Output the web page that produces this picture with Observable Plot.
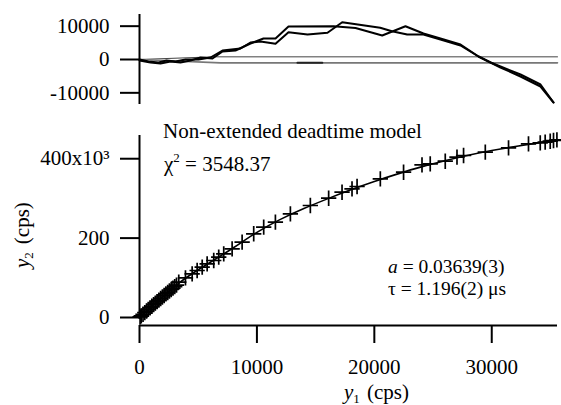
<!DOCTYPE html>
<html><head><meta charset="utf-8">
<script src="https://cdn.jsdelivr.net/npm/d3@7"></script>
<script src="https://cdn.jsdelivr.net/npm/@observablehq/plot@0.6"></script>
<style>
body{margin:0;background:#fff;}
#wrap{position:relative;width:561px;height:405px;overflow:hidden;font-family:"Liberation Serif",serif;background:#fff;}
#toppanel{position:absolute;left:0;top:0;}
#botpanel{position:absolute;left:0;top:120px;}
#ann{position:absolute;left:0;top:0;pointer-events:none;}
svg text{font-family:"Liberation Serif",serif;}
</style></head><body>
<div id="wrap"><div id="toppanel"></div><div id="botpanel"></div><svg id="ann" width="561" height="405"></svg></div>
<script>
// ---- data ----
const resAx = [0,937,1789,2640,3492,4344,5195,6217,7069,8176,9454,10561,11583,12690,16523,18397,20671,22650,24183,25631,27340,28873,29895,30746,32450,34153,35260];
const resAy = [-300,-900,-1200,-600,-900,-300,600,300,2400,2700,4800,6300,6300,9900,9990,9450,7200,9990,7800,6300,4500,900,-900,-2100,-4500,-7500,-12900];
const resBx = [0,767,1618,2300,3066,3918,5025,6047,7069,8602,9454,10306,11583,12690,14309,16012,17264,20500,21497,22800,24183,25631,27340,28873,29895,30746,32450,34153,35260];
const resBy = [0,-600,-900,-300,-600,0,0,600,2700,3300,5100,5400,4710,8190,7500,8010,11190,9510,8490,7500,7500,6000,4200,900,-900,-2400,-5100,-8100,-12900];
const bandUpX = [0,6300,35600], bandUpY = [0,800,800];
const bandLoX = [0,6900,35600], bandLoY = [0,-1000,-1000];
const dashX = [13450,15570], dashY = [-950,-950];

const ptX = [50,150,300,450,600,750,900,1050,1200,1350,1500,1650,1800,1950,2100,2250,2400,2550,2700,2850,3000,3150,
  3344,3915,4485,4910,5340,5761,6323,6748,7174,7889,8740,9727,10578,11574,12850,14550,16110,17250,18100,18530,20510,22490,24060,24760,26040,27040,27600,29450,31430,33130,34130,34550,34980,35260,35550];
const ptY = [1400,4100,8200,12300,16300,20300,24300,28300,32300,36200,40100,44000,47900,51700,55500,59300,63000,66800,70500,74100,77800,81400,
  88900,99900,110100,118400,126700,135300,143600,151900,160500,173100,189800,210900,227500,240100,261200,282100,300500,315600,324200,330000,349400,366000,384700,387200,393700,403800,408100,416400,427500,437600,440000,441600,444100,445900,447600];
const fitX = [0,2000,4000,6000,8000,10000,12000,14000,16000,18000,20000,22000,24000,26000,28000,30000,32000,34000,35600];
const fitY = [0,54000,103000,138500,175000,216000,248000,275000,299000,322000,343000,362000,380000,395000,409000,421000,431000,440000,448000];

const topTicks = [-10000,0,10000];
const botYTicks = [0,200000,400000];
const botYLabels = ["0","200","400x10\u00b3"];
const xTicks = [0,10000,20000,30000];

const tbl = (xs, ys) => xs.map((x,i)=>({x, y: ys[i]}));
const FF = "Liberation Serif, serif";
const FS = 21;
const font = {fontFamily:FF, fontSize:FS+"px", background:"transparent", color:"#000", overflow:"visible"};

// ---- top residual panel ----
const topPlot = Plot.plot({
  width:561, height:120, marginLeft:139, marginRight:4, marginTop:14, marginBottom:16,
  style: font,
  x:{domain:[0,35600], axis:null},
  y:{domain:[-13500,13500], axis:null},
  marks:[
    Plot.line(tbl(bandUpX,bandUpY),{x:"x",y:"y",stroke:"#444",strokeWidth:1}),
    Plot.line(tbl(bandLoX,bandLoY),{x:"x",y:"y",stroke:"#777",strokeWidth:1.6}),
    Plot.line(tbl(dashX,dashY),{x:"x",y:"y",stroke:"#222",strokeWidth:2}),
    Plot.line(tbl(resAx,resAy),{x:"x",y:"y",stroke:"#000",strokeWidth:2}),
    Plot.line(tbl(resBx,resBy),{x:"x",y:"y",stroke:"#000",strokeWidth:2}),
    Plot.ruleX([0],{stroke:"#000",strokeWidth:2}),
    Plot.axisY(topTicks,{anchor:"left",label:null,tickSize:19,tickPadding:11,strokeWidth:2,fontSize:FS,fontFamily:FF,tickFormat:d=>String(d)})
  ]
});
document.getElementById("toppanel").appendChild(topPlot);

// ---- bottom main panel ----
const botPlot = Plot.plot({
  width:561, height:285, marginLeft:139, marginRight:4, marginTop:15, marginBottom:80,
  style: font,
  x:{domain:[0,35600], axis:null},
  y:{domain:[-20150,458500], axis:null},
  marks:[
    Plot.line(tbl(fitX,fitY),{x:"x",y:"y",stroke:"#000",strokeWidth:1.6,curve:"basis"}),
    Plot.dot(tbl(ptX,ptY),{x:"x",y:"y",symbol:"plus",r:5,stroke:"#000",strokeWidth:1.7}),
    Plot.ruleX([0],{y1:-5000,y2:458500,stroke:"#000",strokeWidth:2}),
    Plot.ruleY([-20150],{stroke:"#000",strokeWidth:2}),
    Plot.axisY(botYTicks,{anchor:"left",label:null,tickSize:19,tickPadding:11,strokeWidth:2,fontSize:FS,fontFamily:FF,tickFormat:d=>botYLabels[botYTicks.indexOf(d)]}),
    Plot.axisX(xTicks,{anchor:"bottom",label:null,tickSize:18,tickPadding:16,strokeWidth:2,fontSize:FS,fontFamily:FF,tickFormat:d=>String(d)})
  ]
});
document.getElementById("botpanel").appendChild(botPlot);

// ---- annotations ----
const ann = d3.select("#ann").style("font-family",FF).style("font-size",FS+"px");
ann.append("text").attr("x",163).attr("y",138).text("Non-extended deadtime model");
const chi = ann.append("text").attr("x",164).attr("y",171);
chi.append("tspan").text("\u03c7");
chi.append("tspan").attr("font-size",13).attr("dy",-9).text("2");
chi.append("tspan").attr("dy",9).text(" = 3548.37");
const ta = ann.append("text").attr("x",388).attr("y",273).attr("font-size",19.5);
ta.append("tspan").attr("font-style","italic").text("a");
ta.append("tspan").text(" = 0.03639(3)");
ann.append("text").attr("x",388).attr("y",295).attr("font-size",19.5).text("\u03c4 = 1.196(2) \u03bcs");
const xl = ann.append("text").attr("x",344).attr("y",399);
xl.append("tspan").attr("font-style","italic").text("y");
xl.append("tspan").attr("font-size",13).attr("dy",4).text("1");
xl.append("tspan").attr("x",367).attr("dy",-4).text("(cps)");
const yl = ann.append("text").attr("transform","translate(29,268) rotate(-90)");
yl.append("tspan").attr("font-style","italic").text("y");
yl.append("tspan").attr("font-size",13).attr("dy",4).text("2");
yl.append("tspan").attr("dx",8).attr("dy",-4).text("(cps)");
</script>
</body></html>
